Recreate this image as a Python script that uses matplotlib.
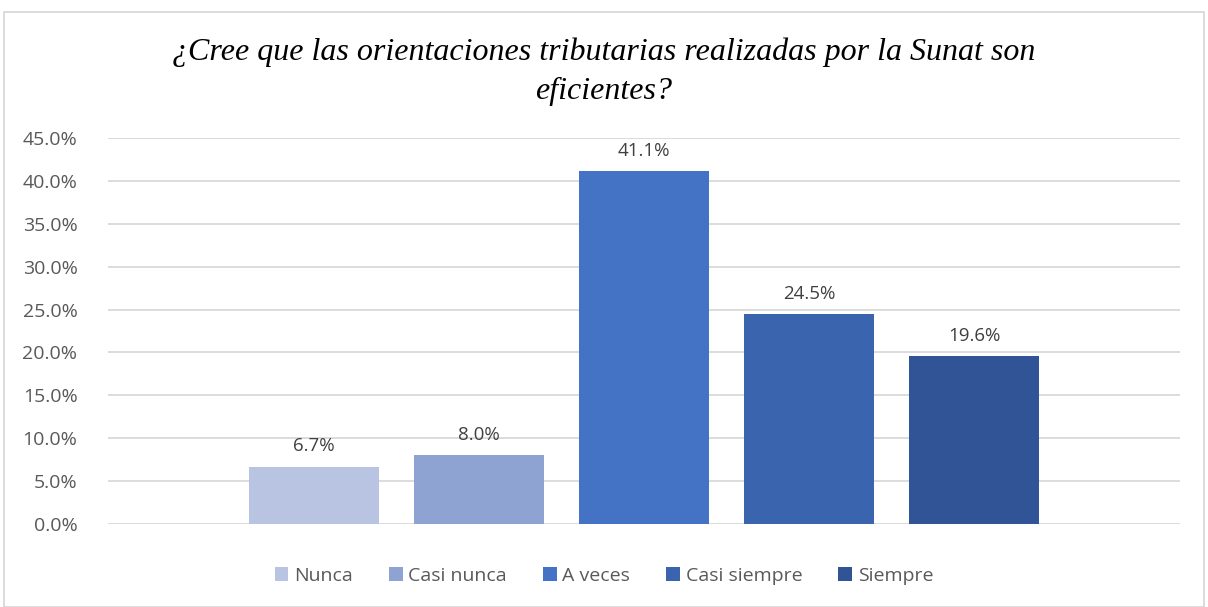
import numpy as np
import matplotlib.pyplot as plt
from matplotlib.patches import Rectangle

categorias = ["Nunca", "Casi nunca", "A veces", "Casi siempre", "Siempre"]
porcentajes = [6.7, 8.0, 41.1, 24.5, 19.6]
colores = ["#B9C4E3", "#8FA3D3", "#4472C4", "#3B64AF", "#305495"]
ticks_y = np.arange(0, 50, 5)

plt.rcParams['font.family'] = ['Open Sans', 'DejaVu Sans']

fig = plt.figure(figsize=(12.08, 6.07), dpi=100)
ax = fig.add_axes([0.0894, 0.1367, 0.8874, 0.636])

x = np.arange(len(categorias))
for i in range(len(categorias)):
    ax.bar(x[i], porcentajes[i], width=0.79, color=colores[i], label=categorias[i], zorder=3)
    ax.text(x[i], porcentajes[i] + 1.3, f"{porcentajes[i]:.1f}%", ha='center', va='bottom',
            fontsize=13.5, color='#404040')

ax.set_ylim(0, 45)
ax.set_xlim(-1.248, 5.248)
ax.set_yticks(ticks_y)
ax.set_yticklabels([f"{v:.1f}%" for v in ticks_y], fontsize=14, color='#595959')
ax.set_xticks([])
ax.tick_params(axis='y', length=0, pad=22)
ax.grid(axis='y', color='#D9D9D9', linewidth=1.3, zorder=0)
for s in ax.spines.values():
    s.set_visible(False)

fig.text(0.5, 0.882, "¿Cree que las orientaciones tributarias realizadas por la Sunat son\neficientes?",
         ha='center', va='center', fontsize=23, style='italic', family='Liberation Serif',
         linespacing=1.45, color='black')

fig.legend(loc='center', bbox_to_anchor=(0.5, 0.051), ncol=5, frameon=False,
           fontsize=14, labelcolor='#595959', handlelength=0.7, handleheight=0.7,
           handletextpad=0.3, columnspacing=1.85)

fig.patches.append(Rectangle((0.003, 0.0), 0.994, 0.98, transform=fig.transFigure,
                             fill=False, edgecolor='#D9D9D9', linewidth=1.3))

fig.savefig("out.png", dpi=100)
